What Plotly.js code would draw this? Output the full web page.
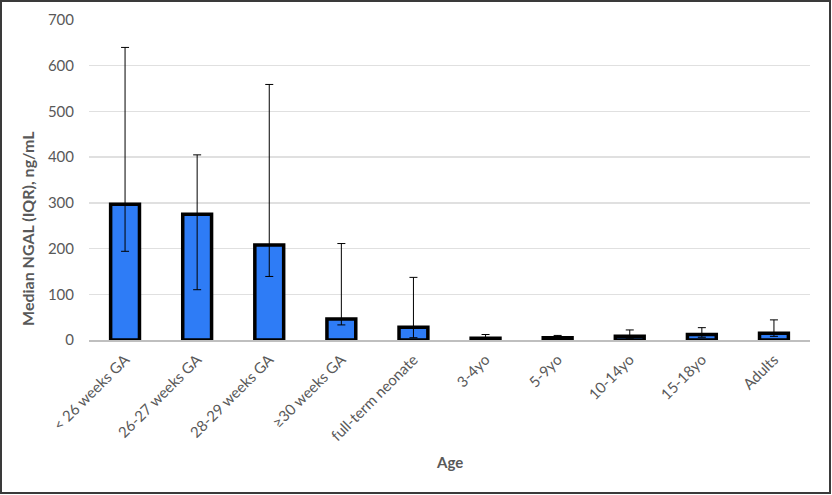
<!DOCTYPE html>
<html>
<head>
<meta charset="utf-8">
<script src="https://cdn.plot.ly/plotly-3.0.1.min.js"></script>
<style>
  html, body { margin: 0; padding: 0; background: #fff; }
  #wrap { position: relative; width: 832px; height: 495px; }
  #chart { position: absolute; left: 0; top: 0; width: 832px; height: 495px; }
  #frame { position: absolute; left: 0; top: 0; width: 827px; height: 490px; border: 2px solid #3a3a3a; pointer-events: none; }
</style>
</head>
<body>
<div id="wrap">
  <div id="chart"></div>
  <div id="frame"></div>
</div>
<script>
const categories = ["< 26 weeks GA", "26-27 weeks GA", "28-29 weeks GA", "≥30 weeks GA", "full-term neonate", "3-4yo", "5-9yo", "10-14yo", "15-18yo", "Adults"];
const medians = [297, 275, 208, 46, 28, 4, 5, 8, 12, 15];
const q3 = [640, 405, 559, 211, 137, 12, 10, 22, 27, 44];
const q1 = [194, 110, 139, 33, 5, 2, 3, 4, 6, 8];
const yTicks = [0, 100, 200, 300, 400, 500, 600, 700];

const errPlus = medians.map((m, i) => q3[i] - m);
const errMinus = medians.map((m, i) => m - q1[i]);

const FONT = "Lato, 'Open Sans', sans-serif";
const GREY = "#595959";

const trace = {
  type: "bar",
  x: categories,
  y: medians,
  marker: { color: "#2e7cf6", line: { color: "#000000", width: 3.5 } },
  error_y: { type: "data", symmetric: false, array: errPlus, arrayminus: errMinus, color: "#000000", thickness: 1, width: 4 },
  hoverinfo: "x+y"
};

const layout = {
  width: 832,
  height: 495,
  margin: { l: 89, r: 22, t: 20, b: 155 },
  paper_bgcolor: "#ffffff",
  plot_bgcolor: "#ffffff",
  bargap: 0.6,
  showlegend: false,
  font: { family: FONT, color: GREY },
  xaxis: {
    type: "category",
    tickangle: -45,
    tickfont: { family: FONT, size: 15, color: GREY },
    showgrid: false,
    showline: true,
    linecolor: "#bfbfbf",
    linewidth: 2,
    layer: "above traces",
    ticks: "",
    ticklabelstandoff: 3,
    fixedrange: true
  },
  yaxis: {
    range: [0, 700],
    tickvals: yTicks,
    ticktext: yTicks.map(String),
    tickfont: { family: FONT, size: 15, color: GREY },
    showgrid: true,
    gridcolor: "#e0e0e0",
    gridwidth: 1.5,
    zeroline: false,
    showline: false,
    ticks: "",
    ticklabelstandoff: 14,
    fixedrange: true
  },
  annotations: [
    {
      text: "<b>Median NGAL (IQR), ng/mL</b>",
      textangle: -90,
      xref: "paper", yref: "paper",
      x: -0.086, y: 0.35,
      xanchor: "center", yanchor: "middle",
      showarrow: false,
      font: { family: FONT, size: 16, color: GREY }
    },
    {
      text: "<b>Age</b>",
      xref: "paper", yref: "paper",
      x: 0.5, y: -0.381,
      xanchor: "center", yanchor: "middle",
      showarrow: false,
      font: { family: FONT, size: 15, color: GREY }
    }
  ]
};

Plotly.newPlot("chart", [trace], layout, { displayModeBar: false, staticPlot: true });
</script>
</body>
</html>
